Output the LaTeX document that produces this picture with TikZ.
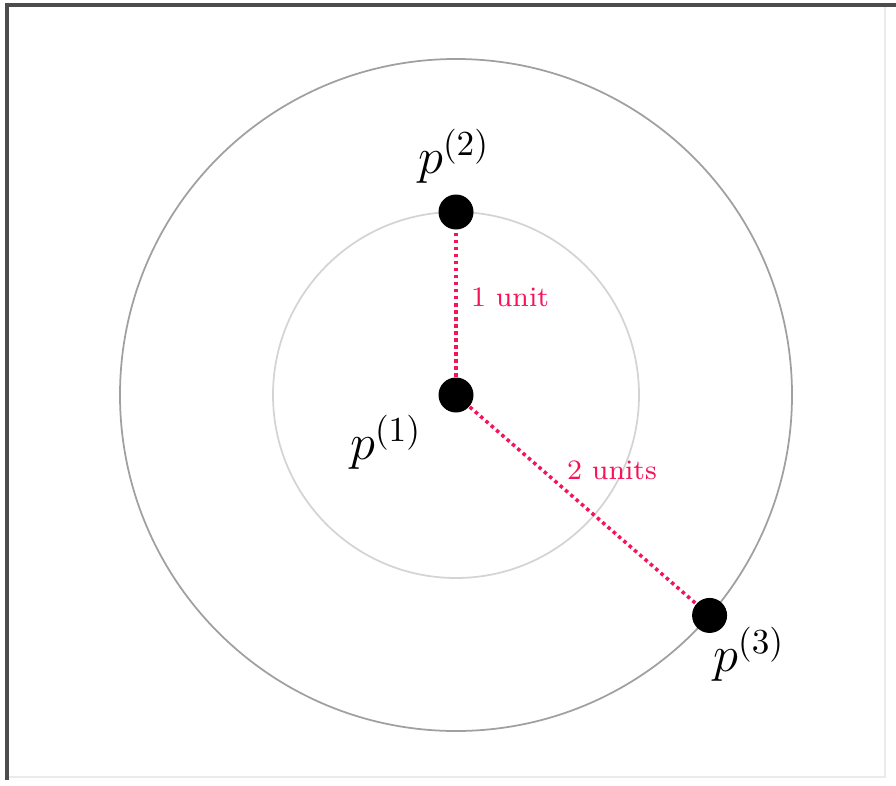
\documentclass[tikz,border=0pt]{standalone}
\usepackage{tikz}
\usetikzlibrary{positioning}
\definecolor{unitred}{RGB}{245,20,90}
\definecolor{ringgray}{RGB}{160,160,160}
\definecolor{ringlight}{RGB}{212,212,212}

\tikzset{
  pt/.style={circle, fill=black, inner sep=0pt, minimum size=0.35cm},
  plabel/.style={font=\Large},
  ulabel/.style={text=unitred, font=\footnotesize},
  unitline/.style={unitred, densely dotted, line width=1pt}
}

\begin{document}
\begin{tikzpicture}
  \useasboundingbox (-4.56,-3.90) rectangle (4.40,3.95);
  % frame
  \draw[black!8, line width=0.4pt] (4.29,3.90) -- (4.29,-3.82) -- (-4.49,-3.82);
  \draw[black!70, line width=1pt] (-4.49,-3.85) -- (-4.49,3.90) -- (4.40,3.90);
  % rings
  \draw[ringlight, line width=0.5pt] (0,0) circle (1.83);
  \draw[ringgray, line width=0.5pt] (0,0) circle (3.36);
  % points
  \node[pt] (p1) at (0,0) {};
  \node[pt] (p2) at (0,1.83) {};
  \node[pt] (p3) at (-41:3.36) {};
  \draw[unitline] (p1) -- (p2);
  \draw[unitline] (p1) -- (p3);
  % labels
  \node[plabel] (l1) at (-0.70,-0.47) {$p^{(1)}$};
  \node[plabel] (l2) at (-0.02,2.39) {$p^{(2)}$};
  \node[plabel] (l3) at (2.93,-2.59) {$p^{(3)}$};
  \node[ulabel] (u1) at (0.54,0.98) {1 unit};
  \node[ulabel] (u2) at (1.56,-0.75) {2 units};
\end{tikzpicture}
\end{document}
